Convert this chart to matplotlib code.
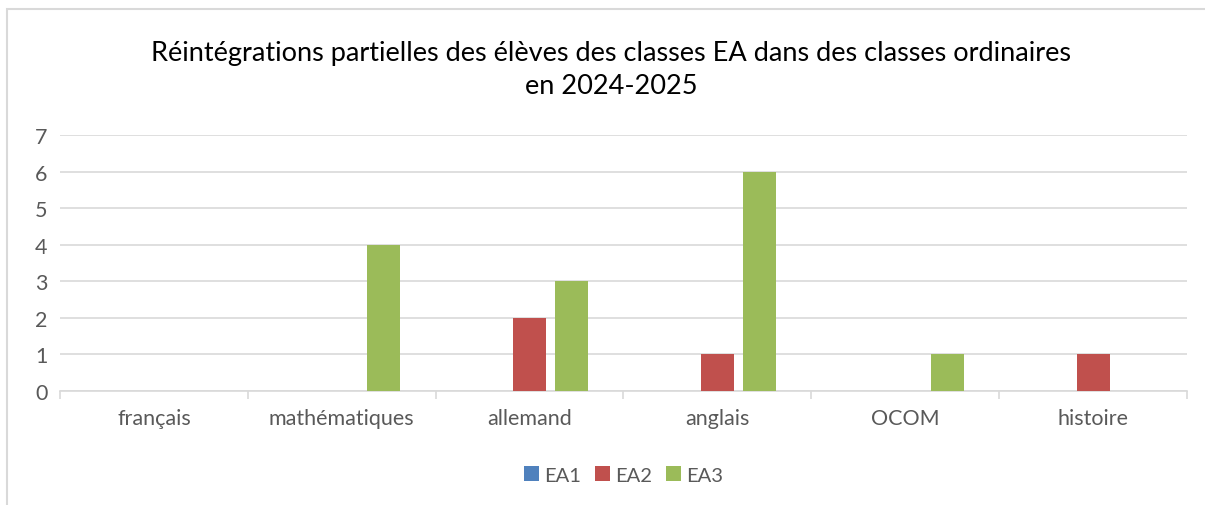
import matplotlib.pyplot as plt
from matplotlib.patches import Rectangle
import numpy as np

# Data
categories = ['français', 'mathématiques', 'allemand', 'anglais', 'OCOM', 'histoire']
series_names = ['EA1', 'EA2', 'EA3']
ea1 = [0, 0, 0, 0, 0, 0]
ea2 = [0, 0, 2, 1, 0, 1]
ea3 = [0, 4, 3, 6, 1, 0]
colors = ['#4f81bd', '#c0504d', '#9bbb59']

plt.rcParams['font.family'] = ['Lato', 'DejaVu Sans']

fig = plt.figure(figsize=(12.05, 5.06), dpi=100)
ax = fig.add_axes([60/1205, 1-392/506, 1127/1205, 256/506])

x = np.arange(len(categories))
bar_w = 0.176
step = 0.223
for i, (name, vals) in enumerate(zip(series_names, [ea1, ea2, ea3])):
    ax.bar(x + (i - 1) * step, vals, width=bar_w, color=colors[i], label=name, zorder=3)

ax.set_xlim(-0.5, len(categories) - 0.5)
ax.set_ylim(0, 7)
ax.set_yticks(range(8))
ax.yaxis.grid(True, color='#d9d9d9', linewidth=1.2, zorder=0)
for s in ['top', 'right', 'left']:
    ax.spines[s].set_visible(False)
ax.spines['bottom'].set_color('#d9d9d9')
ax.spines['bottom'].set_linewidth(1.2)

ax.set_xticks(x)
ax.set_xticklabels(categories)
ax.set_xticks(np.arange(-0.5, len(categories)), minor=True)
ax.tick_params(axis='x', which='major', length=0, pad=12, labelsize=15.5, labelcolor='#595959')
ax.tick_params(axis='x', which='minor', length=6, color='#d9d9d9', width=1.2, direction='out')
ax.tick_params(axis='y', length=0, pad=9, labelsize=15.5, labelcolor='#595959')

fig.text(611/1205, 1-70/506,
         'Réintégrations partielles des élèves des classes EA dans des classes ordinaires\nen 2024-2025',
         ha='center', va='center', fontsize=19.5, color='#000000', linespacing=1.45)

ax.legend(loc='center', bbox_to_anchor=(0.5, (392-476)/256), ncol=3, frameon=False,
          fontsize=14.5, labelcolor='#595959', handlelength=0.75, handleheight=0.75,
          handletextpad=0.25, columnspacing=0.7)

fig.patches.append(Rectangle((7/1205, -0.1), 1.2, 1 - 10/506 + 0.1, transform=fig.transFigure,
                             fill=False, edgecolor='#d9d9d9', linewidth=1.5))

fig.savefig('out.png', dpi=100)
